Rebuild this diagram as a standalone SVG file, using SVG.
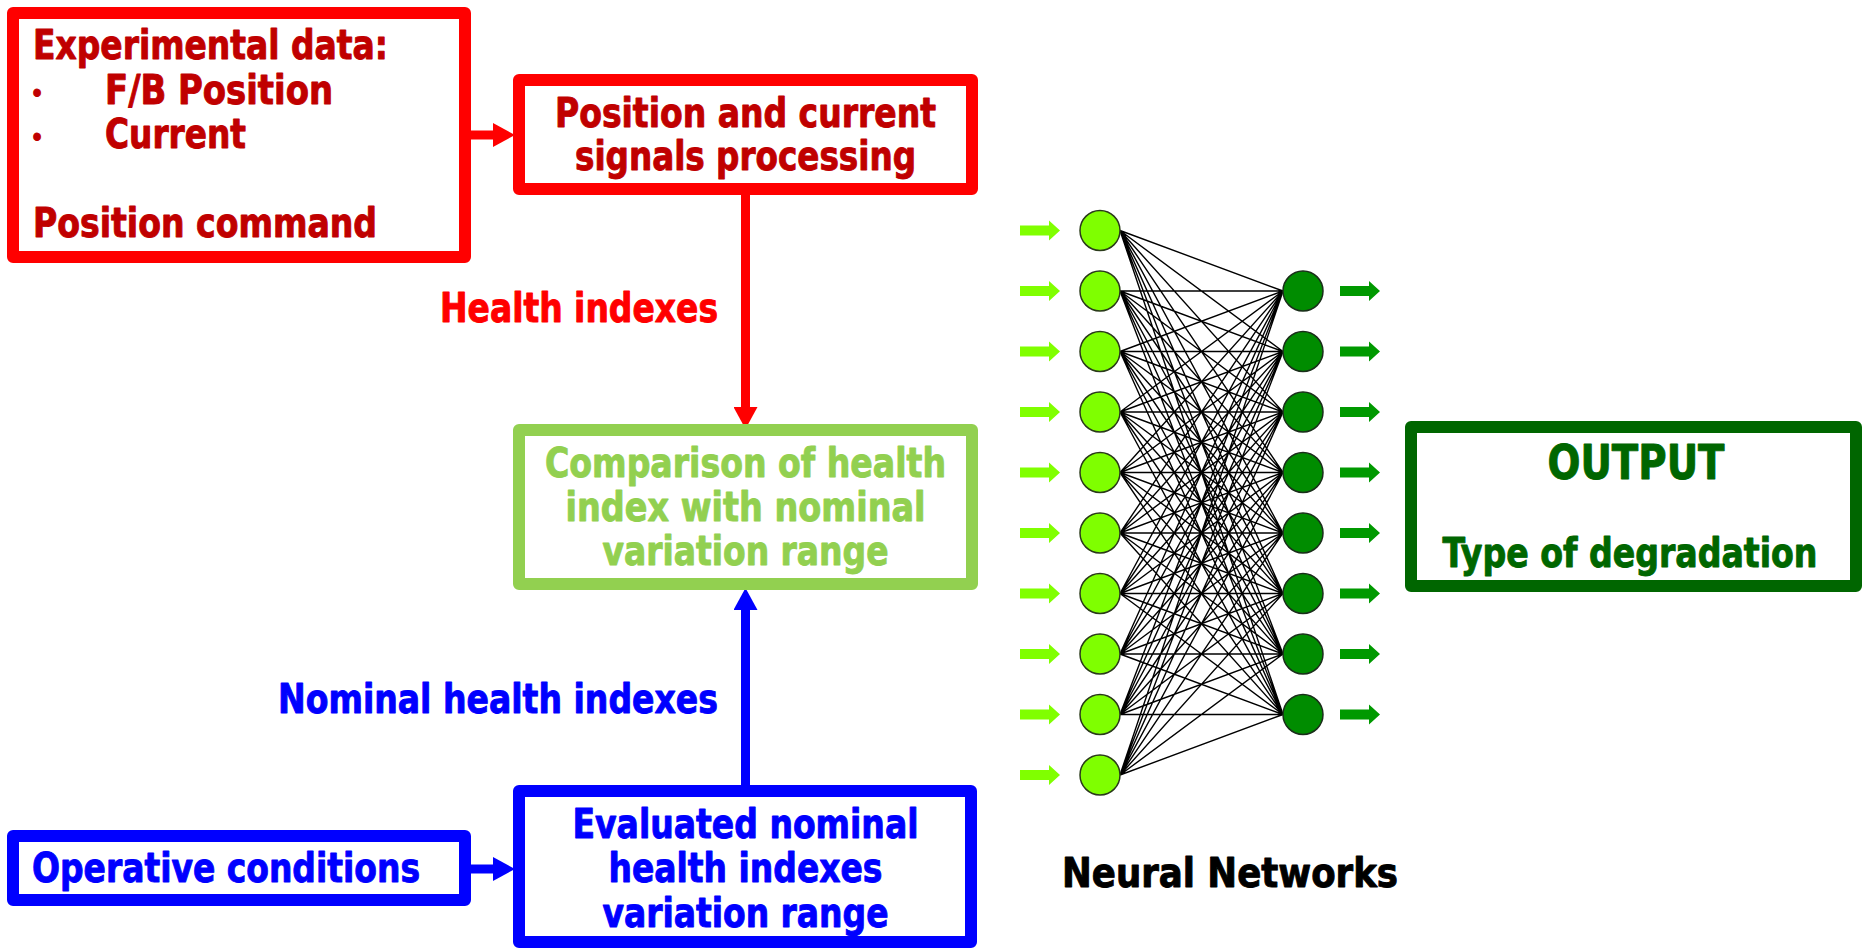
<svg xmlns="http://www.w3.org/2000/svg" width="1864" height="951" viewBox="0 0 1864 951">
<defs>
<style>
text{font-family:"DejaVu Sans Condensed","DejaVu Sans","Liberation Sans",sans-serif;font-weight:bold;font-stretch:condensed;font-size:40px;stroke-width:0.9;stroke-linejoin:round}
.box{fill:#fff;stroke-width:12;stroke-linejoin:round}
.red{stroke:#FF0000}.dred{fill:#C00000;stroke:#C00000}
.tred{fill:#FF0000;stroke:#FF0000}
.blue{stroke:#0000FF}.tblue{fill:#0000FF;stroke:#0000FF}
.lgreen{stroke:#92D050}.tlgreen{fill:#92D050;stroke:#92D050}
.dgreen{stroke:#006600}.tdgreen{fill:#006600;stroke:#006600}
.tblack{fill:#000;stroke:#000}
.c{text-anchor:middle}
.conn{stroke-width:9;fill:none}
.inN{fill:#7FFF00;stroke:#2a3a1a;stroke-width:1.5}
.outN{fill:#008C00;stroke:#1a2e1a;stroke-width:1.5}
.inA{fill:#80FF00}
.outA{fill:#009900}
</style>
<marker id="ahRed" markerUnits="userSpaceOnUse" markerWidth="24" markerHeight="24" refX="0" refY="12" orient="auto"><path d="M0,0 L22,12 L0,24 z" fill="#FF0000"/></marker>
<marker id="ahBlue" markerUnits="userSpaceOnUse" markerWidth="24" markerHeight="24" refX="0" refY="12" orient="auto"><path d="M0,0 L22,12 L0,24 z" fill="#0000FF"/></marker>
<path id="inArrow" d="M0,-5 L29,-5 L29,-10 L40,0 L29,10 L29,5 L0,5 z"/>
</defs>
<rect width="1864" height="951" fill="#fff"/>

<g id="connectors">
<path class="conn red" d="M471,135 L493,135" marker-end="url(#ahRed)"/>
<path class="conn red" d="M745.5,195 L745.5,407" marker-end="url(#ahRed)"/>
<path class="conn blue" d="M745.5,785 L745.5,610" marker-end="url(#ahBlue)"/>
<path class="conn blue" d="M471,869 L493,869" marker-end="url(#ahBlue)"/>
</g>

<g id="experimental-data">
<rect class="box red" x="13" y="13" width="452" height="244"/>
<text class="dred" x="33" y="59" textLength="355" lengthAdjust="spacingAndGlyphs">Experimental data:</text>
<text class="dred c" x="37" y="101" style="font-size:22px">•</text>
<text class="dred" x="105" y="104" textLength="228" lengthAdjust="spacingAndGlyphs">F/B Position</text>
<text class="dred c" x="37" y="145" style="font-size:22px">•</text>
<text class="dred" x="105" y="148" textLength="141" lengthAdjust="spacingAndGlyphs">Current</text>
<text class="dred" x="33" y="237" textLength="344" lengthAdjust="spacingAndGlyphs">Position command</text>
</g>

<g id="signal-processing">
<rect class="box red" x="519" y="80" width="453" height="109"/>
<text class="dred c" x="745.5" y="127" textLength="381" lengthAdjust="spacingAndGlyphs">Position and current</text>
<text class="dred c" x="745.5" y="170" textLength="341" lengthAdjust="spacingAndGlyphs">signals processing</text>
</g>

<g id="label-health-indexes">
<text class="tred" x="440" y="322" textLength="278" lengthAdjust="spacingAndGlyphs">Health indexes</text>
</g>

<g id="comparison">
<rect class="box lgreen" x="519" y="430" width="453" height="154"/>
<text class="tlgreen c" x="745.5" y="477" textLength="401" lengthAdjust="spacingAndGlyphs">Comparison of health</text>
<text class="tlgreen c" x="745.5" y="521" textLength="360" lengthAdjust="spacingAndGlyphs">index with nominal</text>
<text class="tlgreen c" x="745.5" y="565" textLength="286" lengthAdjust="spacingAndGlyphs">variation range</text>
</g>

<g id="label-nominal-health-indexes">
<text class="tblue" x="278" y="713" textLength="440" lengthAdjust="spacingAndGlyphs">Nominal health indexes</text>
</g>

<g id="operative-conditions">
<rect class="box blue" x="13" y="836" width="452" height="64"/>
<text class="tblue" x="32" y="882" textLength="388" lengthAdjust="spacingAndGlyphs">Operative conditions</text>
</g>

<g id="evaluated-range">
<rect class="box blue" x="519" y="791" width="452" height="151"/>
<text class="tblue c" x="745.5" y="838" textLength="346" lengthAdjust="spacingAndGlyphs">Evaluated nominal</text>
<text class="tblue c" x="745.5" y="882" textLength="274" lengthAdjust="spacingAndGlyphs">health indexes</text>
<text class="tblue c" x="745.5" y="927" textLength="286" lengthAdjust="spacingAndGlyphs">variation range</text>
</g>

<g id="output">
<rect class="box dgreen" x="1411" y="427" width="445" height="159"/>
<text class="tdgreen c" x="1636" y="479" style="font-size:48px" textLength="177" lengthAdjust="spacingAndGlyphs">OUTPUT</text>
<text class="tdgreen c" x="1630" y="567" textLength="375" lengthAdjust="spacingAndGlyphs">Type of degradation</text>
</g>

<g id="neural-network">
<path stroke="#000" stroke-width="1.4" fill="none" d="
M1120,230.5 L1283,291 M1120,230.5 L1283,351.5 M1120,230.5 L1283,412 M1120,230.5 L1283,472.5 M1120,230.5 L1283,533 M1120,230.5 L1283,593.5 M1120,230.5 L1283,654 M1120,230.5 L1283,714.5
M1120,291 L1283,291 M1120,291 L1283,351.5 M1120,291 L1283,412 M1120,291 L1283,472.5 M1120,291 L1283,533 M1120,291 L1283,593.5 M1120,291 L1283,654 M1120,291 L1283,714.5
M1120,351.5 L1283,291 M1120,351.5 L1283,351.5 M1120,351.5 L1283,412 M1120,351.5 L1283,472.5 M1120,351.5 L1283,533 M1120,351.5 L1283,593.5 M1120,351.5 L1283,654 M1120,351.5 L1283,714.5
M1120,412 L1283,291 M1120,412 L1283,351.5 M1120,412 L1283,412 M1120,412 L1283,472.5 M1120,412 L1283,533 M1120,412 L1283,593.5 M1120,412 L1283,654 M1120,412 L1283,714.5
M1120,472.5 L1283,291 M1120,472.5 L1283,351.5 M1120,472.5 L1283,412 M1120,472.5 L1283,472.5 M1120,472.5 L1283,533 M1120,472.5 L1283,593.5 M1120,472.5 L1283,654 M1120,472.5 L1283,714.5
M1120,533 L1283,291 M1120,533 L1283,351.5 M1120,533 L1283,412 M1120,533 L1283,472.5 M1120,533 L1283,533 M1120,533 L1283,593.5 M1120,533 L1283,654 M1120,533 L1283,714.5
M1120,593.5 L1283,291 M1120,593.5 L1283,351.5 M1120,593.5 L1283,412 M1120,593.5 L1283,472.5 M1120,593.5 L1283,533 M1120,593.5 L1283,593.5 M1120,593.5 L1283,654 M1120,593.5 L1283,714.5
M1120,654 L1283,291 M1120,654 L1283,351.5 M1120,654 L1283,412 M1120,654 L1283,472.5 M1120,654 L1283,533 M1120,654 L1283,593.5 M1120,654 L1283,654 M1120,654 L1283,714.5
M1120,714.5 L1283,291 M1120,714.5 L1283,351.5 M1120,714.5 L1283,412 M1120,714.5 L1283,472.5 M1120,714.5 L1283,533 M1120,714.5 L1283,593.5 M1120,714.5 L1283,654 M1120,714.5 L1283,714.5
M1120,775 L1283,291 M1120,775 L1283,351.5 M1120,775 L1283,412 M1120,775 L1283,472.5 M1120,775 L1283,533 M1120,775 L1283,593.5 M1120,775 L1283,654 M1120,775 L1283,714.5"/>
<g class="inA">
<use href="#inArrow" x="1020" y="230.5"/><use href="#inArrow" x="1020" y="291"/><use href="#inArrow" x="1020" y="351.5"/><use href="#inArrow" x="1020" y="412"/><use href="#inArrow" x="1020" y="472.5"/><use href="#inArrow" x="1020" y="533"/><use href="#inArrow" x="1020" y="593.5"/><use href="#inArrow" x="1020" y="654"/><use href="#inArrow" x="1020" y="714.5"/><use href="#inArrow" x="1020" y="775"/>
</g>
<g class="outA">
<use href="#inArrow" x="1340" y="291"/><use href="#inArrow" x="1340" y="351.5"/><use href="#inArrow" x="1340" y="412"/><use href="#inArrow" x="1340" y="472.5"/><use href="#inArrow" x="1340" y="533"/><use href="#inArrow" x="1340" y="593.5"/><use href="#inArrow" x="1340" y="654"/><use href="#inArrow" x="1340" y="714.5"/>
</g>
<g id="input-layer">
<circle class="inN" cx="1100" cy="230.5" r="20"/><circle class="inN" cx="1100" cy="291" r="20"/><circle class="inN" cx="1100" cy="351.5" r="20"/><circle class="inN" cx="1100" cy="412" r="20"/><circle class="inN" cx="1100" cy="472.5" r="20"/><circle class="inN" cx="1100" cy="533" r="20"/><circle class="inN" cx="1100" cy="593.5" r="20"/><circle class="inN" cx="1100" cy="654" r="20"/><circle class="inN" cx="1100" cy="714.5" r="20"/><circle class="inN" cx="1100" cy="775" r="20"/>
</g>
<g id="output-layer">
<circle class="outN" cx="1303" cy="291" r="20"/><circle class="outN" cx="1303" cy="351.5" r="20"/><circle class="outN" cx="1303" cy="412" r="20"/><circle class="outN" cx="1303" cy="472.5" r="20"/><circle class="outN" cx="1303" cy="533" r="20"/><circle class="outN" cx="1303" cy="593.5" r="20"/><circle class="outN" cx="1303" cy="654" r="20"/><circle class="outN" cx="1303" cy="714.5" r="20"/>
</g>
<text class="tblack" x="1062" y="887" textLength="336" lengthAdjust="spacingAndGlyphs">Neural Networks</text>
</g>
</svg>
